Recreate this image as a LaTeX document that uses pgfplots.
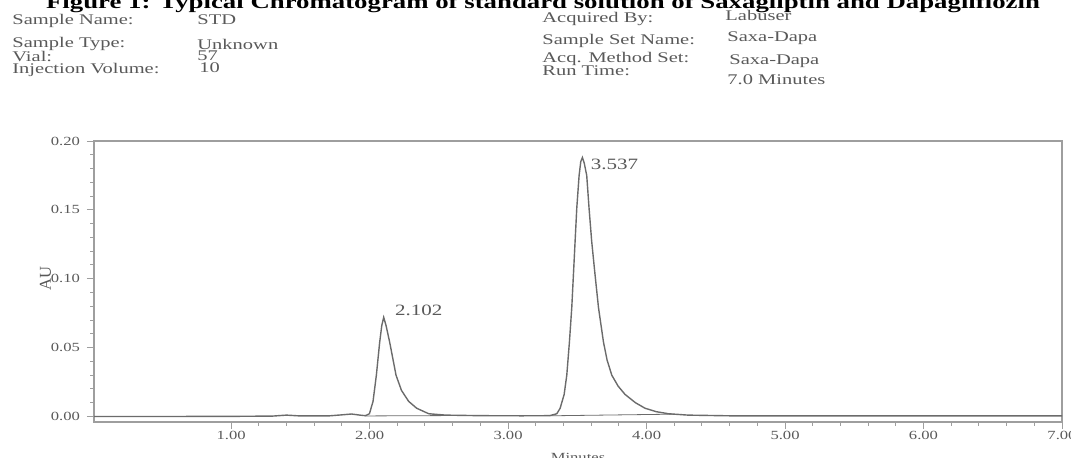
\documentclass[border=0pt]{standalone}
\usepackage{fontspec}
\setmainfont{Liberation Serif}
\usepackage{graphicx}
\usepackage{pgfplots}
\pgfplotsset{compat=1.18}
\definecolor{hdr}{gray}{0.35}
\definecolor{trace}{gray}{0.42}
\definecolor{frame}{gray}{0.62}

\begin{document}
\begin{tikzpicture}
\useasboundingbox (0,0) rectangle (535.5pt,228.5pt);
\clip (0,0) rectangle (535.5pt,228.5pt);
% title, cut at the top as in the scan
\node[anchor=base, inner sep=0, yscale=0.72, font=\fontsize{13.4}{15}\selectfont\bfseries]
  at (271.5pt,224.5pt) {Figure 1: Typical Chromatogram of standard solution of Saxagliptin and Dapagliflozin};
% header block (scan is squeezed vertically)
\begin{scope}[every node/.style={anchor=base west, inner sep=0, yscale=0.72, text=hdr, font=\fontsize{10.25}{12}\selectfont}]
\node at (6pt,216.25pt) {Sample Name:};
\node at (6pt,204.75pt) {Sample Type:};
\node at (6pt,198pt) {Vial:};
\node at (6pt,192pt) {Injection Volume:};
\node at (98.5pt,216.25pt) {STD};
\node at (98.5pt,203.75pt) {Unknown};
\node at (98.5pt,198.5pt) {57};
\node at (99.5pt,192.5pt) {10};
\node at (271pt,217.25pt) {Acquired By:};
\node at (271pt,206.25pt) {Sample Set Name:};
\node at (271pt,197.5pt) {Acq. Method Set:};
\node at (271pt,191pt) {Run Time:};
\node at (362.5pt,218.5pt) {Labuser};
\node at (363.5pt,207.75pt) {Saxa-Dapa};
\node at (364.5pt,196.25pt) {Saxa-Dapa};
\node at (363.5pt,186.25pt) {7.0 Minutes};
\end{scope}

\begin{axis}[
  at={(47pt,17.5pt)}, anchor=south west,
  scale only axis, width=484pt, height=140.5pt,
  xmin=0.01, xmax=7, ymin=-0.004, ymax=0.2,
  xtick={1,2,3,4,5,6,7}, minor x tick num=4,
  ytick={0,0.05,0.10,0.15,0.20}, minor y tick num=4,
  xtick pos=bottom, ytick pos=left,
  tick align=outside, major tick length=3.5pt, minor tick length=1.8pt,
  /pgf/number format/assume math mode=true,
  /pgf/number format/fixed, /pgf/number format/fixed zerofill,
  /pgf/number format/precision=2,
  scaled y ticks=false,
  ticklabel style={font=\fontsize{8.3}{10}\selectfont, text=hdr, yscale=0.75},
  xticklabel style={inner sep=1pt},
  axis line style={frame, line width=0.8pt},
  tick style={frame, line width=0.5pt},
  xlabel={Minutes},
  xlabel style={at={(axis description cs:0.5,-0.125)}, anchor=center, yscale=0.75, font=\fontsize{8.3}{10}\selectfont, text=hdr},
  ylabel={AU},
  ylabel style={at={(axis description cs:-0.05,0.51)}, anchor=center, font=\fontsize{8.3}{10}\selectfont, text=hdr},
]
% chromatogram trace
\addplot[trace, line width=0.7pt] coordinates {
  (0.01,0.0000) (0.50,0.0000) (1.00,0.0001) (1.30,0.0003) (1.40,0.0010)
  (1.50,0.0004) (1.70,0.0004) (1.80,0.0012) (1.87,0.0018) (1.93,0.0010)
  (1.97,0.0006) (1.999,0.002) (2.025,0.011) (2.049,0.030) (2.073,0.054)
  (2.088,0.066) (2.102,0.072) (2.119,0.066) (2.145,0.054) (2.191,0.030)
  (2.230,0.019) (2.282,0.011) (2.340,0.006) (2.427,0.002) (2.55,0.0010)
  (2.80,0.0006) (3.10,0.0005) (3.30,0.0006) (3.352,0.002) (3.376,0.006)
  (3.405,0.016) (3.424,0.030) (3.443,0.054) (3.460,0.079) (3.472,0.103)
  (3.484,0.127) (3.496,0.151) (3.513,0.175) (3.525,0.185) (3.537,0.188)
  (3.550,0.184) (3.568,0.175) (3.585,0.151) (3.604,0.127) (3.628,0.103)
  (3.653,0.079) (3.689,0.054) (3.715,0.041) (3.749,0.030) (3.795,0.022)
  (3.845,0.016) (3.92,0.010) (3.989,0.006) (4.07,0.0035) (4.158,0.002)
  (4.30,0.0010) (4.60,0.0005) (5.50,0.0004) (7.00,0.0004)
};
% integration baselines
\addplot[trace, line width=0.4pt] coordinates {(1.97,0.0004) (2.62,0.0007)};
\addplot[trace, line width=0.4pt] coordinates {(3.30,0.0005) (4.20,0.0017)};
% retention time labels
\node[font=\fontsize{10.5}{12}\selectfont, text=hdr, inner sep=0, yscale=0.75]
  at (axis cs:2.102,0.072) [xshift=17.5pt, yshift=4.5pt] {2.102};
\node[font=\fontsize{10.5}{12}\selectfont, text=hdr, inner sep=0, yscale=0.75]
  at (axis cs:3.537,0.188) [xshift=16pt, yshift=-4.5pt] {3.537};
\end{axis}
\end{tikzpicture}
\end{document}
